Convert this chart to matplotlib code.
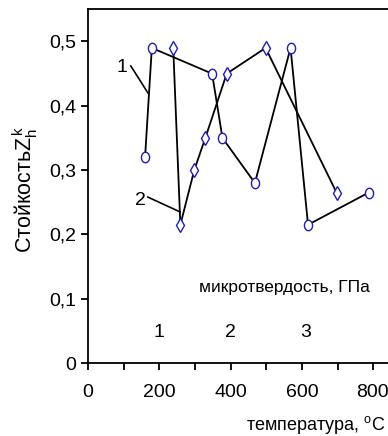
import matplotlib
matplotlib.use("Agg")
import matplotlib.pyplot as plt
import numpy as np
from matplotlib.path import Path

plt.rcParams['font.family'] = ['Liberation Sans', 'DejaVu Sans']
plt.rcParams['mathtext.fontset'] = 'custom'
plt.rcParams['mathtext.rm'] = 'Liberation Sans'
plt.rcParams['mathtext.it'] = 'Liberation Sans'

# Series 1 (circles)
t1 = [160, 179, 348, 377, 468, 568, 617, 787]
z1 = [0.32, 0.49, 0.45, 0.35, 0.28, 0.49, 0.215, 0.265]
# Series 2 (diamonds)
t2 = [239, 259, 298, 329, 389, 498, 697]
z2 = [0.49, 0.215, 0.30, 0.35, 0.45, 0.49, 0.265]

yticks = [0, 0.1, 0.2, 0.3, 0.4, 0.5]
yticklabels = ["0", "0,1", "0,2", "0,3", "0,4", "0,5"]
xticks = [0, 200, 400, 600, 800]
xticklabels = ["0", "200", "400", "600", "800"]

fig = plt.figure(figsize=(3.88, 4.36), dpi=100)
ax = fig.add_axes([88/388, 73/436, 1 - 88/388, (363-9)/436])

th = np.linspace(0, 2*np.pi, 60)
ell = Path(np.column_stack([0.78*np.cos(th), np.sin(th)]), closed=True)

mcol = '#1f1fb4'
ax.plot(t1, z1, color='black', lw=1.3, marker=ell, ms=7.5, mfc='white', mec=mcol, mew=1.0, zorder=3)
ax.plot(t2, z2, color='black', lw=1.3, marker='d', ms=7.5, mfc='white', mec=mcol, mew=1.0, zorder=3)

ax.set_xlim(0, (388-88)/0.3566)
ax.set_ylim(0, (363-9)/643)
ax.spines['right'].set_visible(False)
for s in ['left', 'top', 'bottom']:
    ax.spines[s].set_linewidth(1.3)

ax.set_yticks(yticks)
ax.set_yticklabels(yticklabels)
ax.set_xticks(xticks)
ax.set_xticklabels(xticklabels)
ax.set_xticks(np.arange(100, 900, 200), minor=True)
ax.tick_params(axis='both', which='both', direction='out', length=5, width=1.3, labelsize=14)
ax.tick_params(axis='x', pad=10)
labs = ax.get_xticklabels()
labs[-1].set_horizontalalignment('right')
labs[-1].set_x(800)
import matplotlib.transforms as mtrans
labs[-1].set_transform(labs[-1].get_transform() + mtrans.ScaledTranslation(15/100, 0, fig.dpi_scale_trans))

# leader annotations
ax.plot([120, 168], [0.462, 0.42], color='black', lw=1.2)
ax.text(95, 0.459, "1", fontsize=14, ha='center', va='center')
ax.plot([168, 258], [0.258, 0.235], color='black', lw=1.2)
ax.text(146, 0.252, "2", fontsize=14, ha='center', va='center')

ax.text(550, 0.117, "микротвердость, ГПа", fontsize=12.5, ha='center', va='center')
ax.text(200, 0.048, "1", fontsize=14, ha='center', va='center')
ax.text(400, 0.048, "2", fontsize=14, ha='center', va='center')
ax.text(610, 0.048, "3", fontsize=14, ha='center', va='center')

fig.text(25/388, 1 - 190/436, "Стойкость$Z_h^k$", rotation=90, fontsize=15.5,
         ha='center', va='center')
fig.text(386/388, 1 - 425/436, "температура, $^{\\mathrm{o}}$C", fontsize=13,
         ha='right', va='center')

fig.savefig("out.png", dpi=100)
